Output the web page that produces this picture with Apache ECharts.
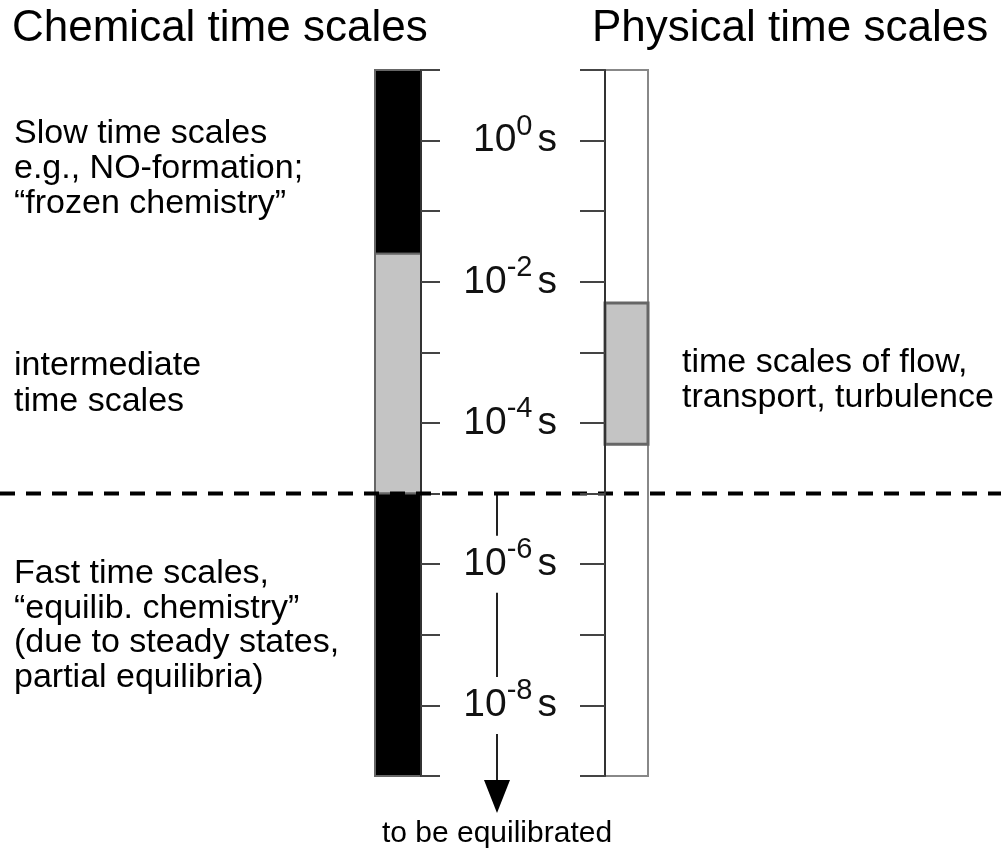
<!DOCTYPE html>
<html><head><meta charset="utf-8">
<script src="https://cdn.jsdelivr.net/npm/echarts@6/dist/echarts.min.js"></script>
<style>html,body{margin:0;padding:0;background:#fff}#c{width:1001px;height:851px}</style>
</head><body><div id="c"></div>
<script>
// ---- data ----
const axisMin = 1e-9, axisMax = 10;                  // seconds, log axis
const tickLabelExponents = [0, -2, -4, -6, -8];      // labelled decades
const chemicalFrom = [0.025, 1e-5, 1e-9];
const chemicalTo   = [10, 0.025, 1e-5];
const chemicalKind = ['slow', 'intermediate', 'fast'];
const physicalFrom = [1e-9, 5e-5];
const physicalTo   = [10, 5e-3];
const physicalKind = ['range', 'flow'];
const separatorValue = 1e-5;
const arrowFrom = 1e-5, arrowTip = 3e-10;
const arrowCaption = 'to be equilibrated';
const titles = ['Chemical time scales', 'Physical time scales'];
const slowText = ['Slow time scales', 'e.g., NO-formation;', '\u201cfrozen chemistry\u201d'];
const interText = ['intermediate', 'time scales'];
const fastText = ['Fast time scales,', '\u201cequilib. chemistry\u201d', '(due to steady states,', 'partial equilibria)'];
const flowText = ['time scales of flow,', 'transport, turbulence'];

// ---- styles ----
const FONT = '"Liberation Sans", Arial, Helvetica, sans-serif';
const fills = {slow: '#000', intermediate: '#c4c4c4', fast: '#000', range: '#fff', flow: '#c4c4c4'};
const strokes = {slow: '#666', intermediate: '#666', fast: '#666', range: '#888', flow: '#666'};
const strokeW = {slow: 2, intermediate: 2, fast: 2, range: 2, flow: 3};

const chart = echarts.init(document.getElementById('c'), null, {renderer: 'canvas'});

function barRenderer(kinds) {
  return function (params, api) {
    const lo = api.value(0), hi = api.value(1);
    const p1 = api.coord([0, hi]);
    const p2 = api.coord([1, lo]);
    const k = kinds[params.dataIndex];
    return {
      type: 'rect',
      shape: {x: p1[0], y: p1[1], width: p2[0] - p1[0], height: p2[1] - p1[1]},
      style: {fill: fills[k], stroke: strokes[k], lineWidth: strokeW[k]}
    };
  };
}

function logAxis(gridIndex, position, tickLen, extra) {
  return Object.assign({
    type: 'log', logBase: 10, gridIndex, position,
    min: axisMin, max: axisMax, interval: 1,
    splitLine: {show: false},
    axisLine: {show: true, onZero: false, lineStyle: {color: '#333', width: 2}},
    axisTick: {show: true, inside: false, length: tickLen, lineStyle: {color: '#444', width: 2}},
    axisLabel: {show: false}
  }, extra);
}

const option = {
  animation: false,
  backgroundColor: '#fff',
  grid: [
    {left: 375, width: 46, top: 70, height: 706},
    {left: 605, width: 43, top: 70, height: 706},
    {left: 0, right: 0, top: 70, height: 706}
  ],
  xAxis: [
    {type: 'value', gridIndex: 0, min: 0, max: 1, show: false},
    {type: 'value', gridIndex: 1, min: 0, max: 1, show: false},
    {type: 'value', gridIndex: 2, min: 0, max: 1001, show: false}
  ],
  yAxis: [
    logAxis(0, 'right', 19, {z: 3}),
    logAxis(1, 'left', 25, {
      z: 10,
      axisLabel: {
        show: true, margin: 46, backgroundColor: '#fff', padding: [0, 2, 0, 2],
        formatter: function (v) {
          const e = Math.round(Math.log10(v));
          if (tickLabelExponents.indexOf(e) < 0) return '';
          return '{b|10}{sup|' + e + '}{s|s}';
        },
        rich: {
          b: {fontSize: 39, fontFamily: FONT, color: '#111'},
          s: {fontSize: 39, fontFamily: FONT, color: '#111', padding: [0, 0, 0, 5]},
          sup: {fontSize: 29, fontFamily: FONT, color: '#111', padding: [0, 0, 28, 0]}
        }
      }
    }),
    {type: 'log', logBase: 10, gridIndex: 2, min: axisMin, max: axisMax, show: false}
  ],
  series: [
    {
      type: 'custom', xAxisIndex: 0, yAxisIndex: 0, z: 2,
      encode: {y: [0, 1]},
      renderItem: barRenderer(chemicalKind),
      data: chemicalFrom.map((f, i) => [f, chemicalTo[i]])
    },
    {
      type: 'custom', xAxisIndex: 1, yAxisIndex: 1, z: 2,
      encode: {y: [0, 1]},
      renderItem: barRenderer(physicalKind),
      data: physicalFrom.map((f, i) => [f, physicalTo[i]])
    },
    {
      type: 'custom', xAxisIndex: 2, yAxisIndex: 2, z: 5,
      encode: {y: [0, 1]},
      renderItem: function (params, api) {
        const arrowX = 497;
        const top = api.coord([arrowX, api.value(0)]);
        const tip = api.coord([arrowX, api.value(1)]);
        const headLen = 33, headW = 13;
        return {
          type: 'group',
          children: [
            {type: 'line', shape: {x1: top[0], y1: top[1], x2: tip[0], y2: tip[1] - headLen},
             style: {stroke: '#222', lineWidth: 2}},
            {type: 'polygon', shape: {points: [[tip[0] - headW, tip[1] - headLen], [tip[0] + headW, tip[1] - headLen], [tip[0], tip[1]]]},
             style: {fill: '#000'}},
            {type: 'text', x: tip[0], y: tip[1] + 21,
             style: {text: arrowCaption, fontSize: 30, fontFamily: FONT, fill: '#000', align: 'center', verticalAlign: 'middle'}}
          ]
        };
      },
      data: [[arrowFrom, arrowTip]]
    },
    {
      type: 'line', xAxisIndex: 2, yAxisIndex: 2, z: 6,
      symbol: 'none', silent: true,
      lineStyle: {color: '#000', width: 4, type: [15, 11]},
      data: [[0, separatorValue], [1001, separatorValue]]
    }
  ],
  graphic: [
    {type: 'text', x: 12, y: 29, style: {text: titles[0], fontSize: 44, fontFamily: FONT, fill: '#000', verticalAlign: 'middle'}},
    {type: 'text', x: 592, y: 29, style: {text: titles[1], fontSize: 44, fontFamily: FONT, fill: '#000', verticalAlign: 'middle'}},
    {type: 'text', x: 14, y: 116.5, style: {text: slowText.join('\n'), fontSize: 34, lineHeight: 35, fontFamily: FONT, fill: '#000', verticalAlign: 'top'}},
    {type: 'text', x: 14, y: 347.5, style: {text: interText.join('\n'), fontSize: 34, lineHeight: 36, fontFamily: FONT, fill: '#000', verticalAlign: 'top'}},
    {type: 'text', x: 14, y: 556.5, style: {text: fastText.join('\n'), fontSize: 34, lineHeight: 34.5, fontFamily: FONT, fill: '#000', verticalAlign: 'top'}},
    {type: 'text', x: 682, y: 345.5, style: {text: flowText.join('\n'), fontSize: 34, lineHeight: 35, fontFamily: FONT, fill: '#000', verticalAlign: 'top'}}
  ]
};
chart.setOption(option);
</script>
</body></html>
